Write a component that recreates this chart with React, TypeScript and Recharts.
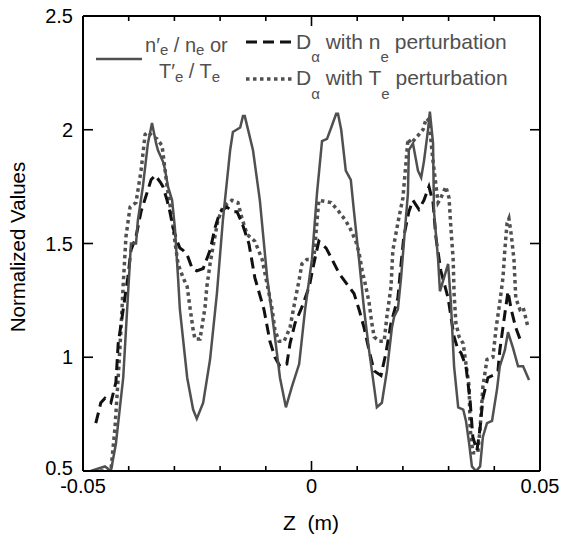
import React from 'react';
import { LineChart, Line, XAxis, YAxis } from 'recharts';

// z (m), normalized value
const solidPoints: [number, number][] = [
  [-0.0483, 0.50], [-0.0452, 0.52], [-0.0439, 0.50], [-0.0428, 0.62], [-0.0412, 0.91], [-0.0402, 1.26],
  [-0.0395, 1.50], [-0.0384, 1.50], [-0.0380, 1.60], [-0.0369, 1.75], [-0.0358, 1.94], [-0.0349, 2.03],
  [-0.0340, 1.94], [-0.0336, 1.91], [-0.0325, 1.86], [-0.0321, 1.83], [-0.0314, 1.75], [-0.0305, 1.69],
  [-0.0299, 1.57], [-0.0292, 1.35], [-0.0288, 1.21], [-0.0272, 0.91], [-0.0259, 0.77], [-0.0251, 0.73],
  [-0.0237, 0.80], [-0.0222, 0.99], [-0.0207, 1.28], [-0.0194, 1.60], [-0.0178, 1.91], [-0.0172, 1.99],
  [-0.0156, 2.01], [-0.0150, 2.06], [-0.0146, 2.06], [-0.0128, 1.91], [-0.0113, 1.69], [-0.0097, 1.35],
  [-0.0082, 1.12], [-0.0069, 0.91], [-0.0056, 0.78], [-0.0043, 0.87], [-0.0027, 0.97], [-0.0014, 1.21],
  [0.0001, 1.43], [0.0012, 1.72], [0.0023, 1.95], [0.0034, 1.96], [0.0045, 2.02], [0.0054, 2.07],
  [0.0058, 2.07], [0.0065, 2.00], [0.0075, 1.82], [0.0086, 1.78], [0.0093, 1.64], [0.0104, 1.43],
  [0.0115, 1.21], [0.0126, 1.03], [0.0137, 0.87], [0.0143, 0.78], [0.0154, 0.80], [0.0165, 0.94],
  [0.0176, 1.13], [0.0181, 1.18], [0.0189, 1.21], [0.0196, 1.35], [0.0202, 1.50], [0.0211, 1.72],
  [0.0213, 1.91], [0.0222, 1.94], [0.0233, 1.82], [0.0240, 1.79], [0.0246, 1.86], [0.0255, 2.00],
  [0.0259, 2.08], [0.0266, 1.94], [0.0268, 1.64], [0.0277, 1.43], [0.0281, 1.29], [0.0290, 1.35],
  [0.0299, 1.41], [0.0305, 1.24], [0.0312, 0.96], [0.0321, 0.78], [0.0332, 0.77], [0.0338, 0.72],
  [0.0345, 0.62], [0.0351, 0.52], [0.0360, 0.50], [0.0369, 0.52], [0.0375, 0.65], [0.0384, 0.71],
  [0.0395, 0.72], [0.0406, 0.86], [0.0412, 0.96], [0.0423, 1.03], [0.0430, 1.11], [0.0441, 1.04],
  [0.0452, 0.96], [0.0463, 0.96], [0.0476, 0.90],
];

const dashedPoints: [number, number][] = [
  [-0.0472, 0.71], [-0.0461, 0.80], [-0.0452, 0.82], [-0.0439, 0.80], [-0.0428, 0.89], [-0.0423, 1.06],
  [-0.0412, 1.21], [-0.0402, 1.35], [-0.0395, 1.47], [-0.0384, 1.53], [-0.0373, 1.64], [-0.0362, 1.71],
  [-0.0351, 1.78], [-0.0342, 1.80], [-0.0331, 1.77], [-0.0325, 1.75], [-0.0316, 1.69], [-0.0310, 1.64],
  [-0.0303, 1.57], [-0.0294, 1.51], [-0.0288, 1.48], [-0.0281, 1.47], [-0.0272, 1.45], [-0.0261, 1.39],
  [-0.0251, 1.38], [-0.0237, 1.39], [-0.0222, 1.47], [-0.0211, 1.57], [-0.0200, 1.64], [-0.0185, 1.66],
  [-0.0172, 1.64], [-0.0163, 1.64], [-0.0152, 1.59], [-0.0137, 1.50], [-0.0124, 1.35], [-0.0104, 1.21],
  [-0.0091, 1.07], [-0.0080, 1.00], [-0.0069, 0.96], [-0.0054, 0.97], [-0.0047, 1.06], [-0.0036, 1.15],
  [-0.0021, 1.22], [-0.0005, 1.31], [0.0005, 1.41], [0.0016, 1.51], [0.0032, 1.48], [0.0045, 1.43],
  [0.0060, 1.37], [0.0078, 1.32], [0.0093, 1.28], [0.0104, 1.21], [0.0115, 1.13], [0.0126, 1.03],
  [0.0137, 0.94], [0.0152, 0.92], [0.0163, 1.02], [0.0174, 1.15], [0.0189, 1.26], [0.0196, 1.41],
  [0.0202, 1.53], [0.0213, 1.64], [0.0222, 1.69], [0.0235, 1.65], [0.0246, 1.69], [0.0257, 1.75],
  [0.0266, 1.68], [0.0272, 1.53], [0.0283, 1.38], [0.0299, 1.26], [0.0305, 1.18], [0.0312, 1.09],
  [0.0321, 1.03], [0.0327, 1.02], [0.0338, 0.96], [0.0347, 0.81], [0.0353, 0.65], [0.0362, 0.59],
  [0.0369, 0.69], [0.0375, 0.82], [0.0386, 0.91], [0.0397, 0.92], [0.0408, 0.94], [0.0412, 1.03],
  [0.0423, 1.19], [0.0430, 1.29], [0.0437, 1.21], [0.0447, 1.13], [0.0458, 1.07],
];

const dottedPoints: [number, number][] = [
  [-0.0478, 0.50], [-0.0439, 0.50], [-0.0430, 0.69], [-0.0423, 0.91], [-0.0417, 1.12], [-0.0412, 1.32],
  [-0.0406, 1.53], [-0.0397, 1.66], [-0.0384, 1.68], [-0.0373, 1.82], [-0.0364, 1.98], [-0.0358, 1.99],
  [-0.0347, 1.97], [-0.0338, 1.96], [-0.0327, 1.93], [-0.0316, 1.75], [-0.0305, 1.61], [-0.0299, 1.51],
  [-0.0292, 1.41], [-0.0281, 1.35], [-0.0272, 1.31], [-0.0266, 1.22], [-0.0259, 1.12], [-0.0255, 1.08],
  [-0.0244, 1.08], [-0.0240, 1.13], [-0.0233, 1.22], [-0.0229, 1.31], [-0.0222, 1.41], [-0.0216, 1.48],
  [-0.0205, 1.60], [-0.0194, 1.66], [-0.0174, 1.69], [-0.0161, 1.68], [-0.0152, 1.61], [-0.0141, 1.54],
  [-0.0124, 1.51], [-0.0108, 1.43], [-0.0097, 1.32], [-0.0086, 1.21], [-0.0080, 1.12], [-0.0071, 1.07],
  [-0.0060, 1.07], [-0.0047, 1.13], [-0.0036, 1.25], [-0.0027, 1.34], [-0.0021, 1.41], [-0.0010, 1.43],
  [0.0005, 1.43], [0.0010, 1.55], [0.0016, 1.69], [0.0043, 1.68], [0.0060, 1.64], [0.0075, 1.60],
  [0.0086, 1.56], [0.0097, 1.51], [0.0104, 1.46], [0.0111, 1.38], [0.0119, 1.31], [0.0126, 1.24],
  [0.0132, 1.15], [0.0137, 1.09], [0.0148, 1.07], [0.0159, 1.07], [0.0165, 1.18], [0.0174, 1.31],
  [0.0178, 1.47], [0.0189, 1.59], [0.0200, 1.70], [0.0207, 1.86], [0.0211, 1.96], [0.0218, 1.94],
  [0.0244, 2.00], [0.0251, 2.05], [0.0257, 2.04], [0.0266, 1.86], [0.0277, 1.68], [0.0283, 1.70],
  [0.0294, 1.75], [0.0301, 1.70], [0.0305, 1.57], [0.0310, 1.43], [0.0312, 1.28], [0.0316, 1.15],
  [0.0323, 1.09], [0.0332, 1.06], [0.0338, 0.97], [0.0345, 0.87], [0.0347, 0.69], [0.0353, 0.58],
  [0.0364, 0.58], [0.0369, 0.69], [0.0375, 0.87], [0.0384, 0.99], [0.0397, 1.00], [0.0404, 1.13],
  [0.0412, 1.24], [0.0419, 1.35], [0.0423, 1.47], [0.0428, 1.59], [0.0432, 1.61], [0.0437, 1.54],
  [0.0443, 1.43], [0.0447, 1.26], [0.0456, 1.21], [0.0463, 1.22], [0.0474, 1.13],
];

const xTicks = [-0.05, -0.04, -0.03, -0.02, -0.01, 0, 0.01, 0.02, 0.03, 0.04, 0.05];
const xTickLabels = ['-0.05', '0', '0.05'];
const yTicks = [0.5, 1, 1.5, 2, 2.5];
const yTickLabels = ['0.5', '1', '1.5', '2', '2.5'];

const toRows = (pts: [number, number][]) => pts.map(([z, v]) => ({ z, v }));
const solidData = toRows(solidPoints);
const dashedData = toRows(dashedPoints);
const dottedData = toRows(dottedPoints);

const FONT = '"Liberation Sans", Arial, Helvetica, sans-serif';
const GRAY = '#505050';

const isMajorX = (v: number) => {
  const k = Math.round(v * 100);
  return k === -5 || k === 0 || k === 5;
};
const xLabel = (v: number) => {
  const k = Math.round(v * 100);
  if (k === -5) return xTickLabels[0];
  if (k === 0) return xTickLabels[1];
  if (k === 5) return xTickLabels[2];
  return '';
};

const BottomTick = (props: any) => {
  const { x, y, payload } = props;
  const v = payload.value as number;
  const len = isMajorX(v) ? 10 : 5;
  const lab = xLabel(v);
  return (
    <g>
      <line x1={x} y1={y} x2={x} y2={y - len} stroke="#000" strokeWidth={1.6} />
      {lab && (
        <text x={x} y={y + 22} textAnchor="middle" fontSize={20} fontFamily={FONT} fill="#000">
          {lab}
        </text>
      )}
    </g>
  );
};

const TopTick = (props: any) => {
  const { x, y, payload } = props;
  const v = payload.value as number;
  const len = isMajorX(v) ? 10 : 5;
  return <line x1={x} y1={y} x2={x} y2={y + len} stroke="#000" strokeWidth={1.6} />;
};

const LeftTick = (props: any) => {
  const { x, y, payload } = props;
  const v = payload.value as number;
  const idx = yTicks.indexOf(v);
  const dy = v === 0.5 ? 4 : 7;
  return (
    <g>
      <line x1={x} y1={y} x2={x + 10} y2={y} stroke="#000" strokeWidth={1.6} />
      <text x={x - 10} y={y + dy} textAnchor="end" fontSize={20} fontFamily={FONT} fill="#000">
        {idx >= 0 ? yTickLabels[idx] : ''}
      </text>
    </g>
  );
};

const RightTick = (props: any) => {
  const { x, y } = props;
  return <line x1={x} y1={y} x2={x - 10} y2={y} stroke="#000" strokeWidth={1.6} />;
};

const axisLine = { stroke: '#000', strokeWidth: 2 };

export default function App() {
  return (
    <div style={{ position: 'absolute', left: 0, top: 0, width: 562, height: 551, background: '#fff' }}>
      <LineChart width={562} height={551} margin={{ top: 15, right: 21, bottom: 20, left: 23 }}>
        <XAxis
          xAxisId="b"
          dataKey="z"
          type="number"
          domain={[-0.05, 0.05]}
          ticks={xTicks}
          interval={0}
          allowDataOverflow
          height={60}
          tickSize={0}
          tickMargin={0}
          tickLine={false}
          axisLine={axisLine}
          tick={<BottomTick />}
        />
        <XAxis
          xAxisId="t"
          orientation="top"
          dataKey="z"
          type="number"
          domain={[-0.05, 0.05]}
          ticks={xTicks}
          interval={0}
          allowDataOverflow
          height={1}
          tickSize={0}
          tickMargin={0}
          tickLine={false}
          axisLine={axisLine}
          tick={<TopTick />}
        />
        <YAxis
          yAxisId="l"
          type="number"
          domain={[0.5, 2.5]}
          ticks={yTicks}
          interval={0}
          allowDataOverflow
          width={60}
          tickSize={0}
          tickMargin={0}
          tickLine={false}
          axisLine={axisLine}
          tick={<LeftTick />}
        />
        <YAxis
          yAxisId="r"
          orientation="right"
          type="number"
          domain={[0.5, 2.5]}
          ticks={yTicks}
          interval={0}
          allowDataOverflow
          width={1}
          tickSize={0}
          tickMargin={0}
          tickLine={false}
          axisLine={axisLine}
          tick={<RightTick />}
        />
        <Line
          xAxisId="b"
          yAxisId="l"
          data={dottedData}
          dataKey="v"
          type="linear"
          stroke={GRAY}
          strokeWidth={3.5}
          strokeDasharray="3.5 3.5"
          dot={false}
          isAnimationActive={false}
        />
        <Line
          xAxisId="b"
          yAxisId="l"
          data={dashedData}
          dataKey="v"
          type="linear"
          stroke="#111"
          strokeWidth={3}
          strokeDasharray="11 6"
          dot={false}
          isAnimationActive={false}
        />
        <Line
          xAxisId="b"
          yAxisId="l"
          data={solidData}
          dataKey="v"
          type="linear"
          stroke={GRAY}
          strokeWidth={2.5}
          dot={false}
          isAnimationActive={false}
        />
      </LineChart>
      <svg
        width={562}
        height={551}
        style={{ position: 'absolute', left: 0, top: 0, pointerEvents: 'none' }}
        fontFamily={FONT}
      >
        <text x={311} y={530} textAnchor="middle" fontSize={21} fill="#000" style={{ whiteSpace: 'pre' }}>
          {'Z  (m)'}
        </text>
        <text
          x={0}
          y={0}
          transform="translate(25 247) rotate(-90)"
          textAnchor="middle"
          fontSize={20.5}
          fill="#000"
        >
          Normalized Values
        </text>

        <line x1={96} y1={59} x2={142} y2={59} stroke={GRAY} strokeWidth={2.5} />
        <text x={145} y={52} fontSize={20} fill={GRAY}>
          n<tspan>′</tspan>
          <tspan fontSize={15} dx={0} dy={3}>e</tspan>
          <tspan dy={-3}> / n</tspan>
          <tspan fontSize={15} dy={3}>e</tspan>
          <tspan dy={-3}> or</tspan>
        </text>
        <text x={159} y={78} fontSize={20} fill={GRAY}>
          T<tspan>′</tspan>
          <tspan fontSize={15} dx={0} dy={4}>e</tspan>
          <tspan dy={-4}> / T</tspan>
          <tspan fontSize={15} dy={4}>e</tspan>
        </text>

        <line x1={246} y1={42} x2={292} y2={42} stroke="#111" strokeWidth={3} strokeDasharray="11 6" />
        <text x={296} y={49} fontSize={21} fill={GRAY}>
          D<tspan fontSize={15} dy={13}>α</tspan>
          <tspan dy={-13}> with n</tspan>
          <tspan fontSize={15} dy={13}>e</tspan>
          <tspan dy={-13}> perturbation</tspan>
        </text>

        <line x1={246} y1={79} x2={292} y2={79} stroke={GRAY} strokeWidth={3.5} strokeDasharray="3.5 3.5" />
        <text x={296} y={85} fontSize={21} fill={GRAY}>
          D<tspan fontSize={15} dy={14}>α</tspan>
          <tspan dy={-14}> with T</tspan>
          <tspan fontSize={15} dy={14}>e</tspan>
          <tspan dy={-14}> perturbation</tspan>
        </text>
      </svg>
    </div>
  );
}
